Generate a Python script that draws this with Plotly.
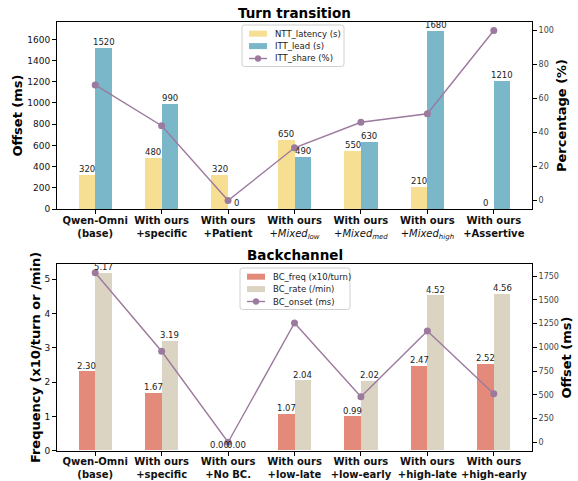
import plotly.graph_objects as go
from plotly.subplots import make_subplots

# ---- data ----
tt_categories = [
    "<b>Qwen-Omni</b><br><b>(base)</b>",
    "<b>With ours</b><br><b>+specific</b>",
    "<b>With ours</b><br><b>+Patient</b>",
    "<b>With ours</b><br>+<i>Mixed<sub>low</sub></i>",
    "<b>With ours</b><br>+<i>Mixed<sub>med</sub></i>",
    "<b>With ours</b><br>+<i>Mixed<sub>high</sub></i>",
    "<b>With ours</b><br><b>+Assertive</b>",
]
ntt_latency = [320, 480, 320, 650, 550, 210, 0]
itt_lead = [1520, 990, 0, 490, 630, 1680, 1210]
itt_share = [68, 44, 0, 31, 46, 51, 100]

bc_categories = [
    "<b>Qwen-Omni</b><br><b>(base)</b>",
    "<b>With ours</b><br><b>+specific</b>",
    "<b>With ours</b><br><b>+No BC.</b>",
    "<b>With ours</b><br><b>+low-late</b>",
    "<b>With ours</b><br><b>+low-early</b>",
    "<b>With ours</b><br><b>+high-late</b>",
    "<b>With ours</b><br><b>+high-early</b>",
]
bc_freq = [2.30, 1.67, 0.00, 1.07, 0.99, 2.47, 2.52]
bc_rate = [5.17, 3.19, 0.00, 2.04, 2.02, 4.52, 4.56]
bc_onset = [1785, 958, 0, 1256, 479, 1172, 510]

tt_names = ["NTT_latency (s)", "ITT_lead (s)", "ITT_share (%)"]
bc_names = ["BC_freq (x10/turn)", "BC_rate (/min)", "BC_onset (ms)"]

# ---- style ----
FONT = "DejaVu Sans"
C_NTT = "#F6DE92"
C_ITT = "#7AB7C9"
C_LINE = "#9C7A9E"
C_FREQ = "#E48A7B"
C_RATE = "#DCD4C2"
W, H = 578, 481
BAR_W = 0.25

fig = make_subplots(rows=2, cols=1,
                    specs=[[{"secondary_y": True}], [{"secondary_y": True}]])

xs1 = list(range(len(tt_categories)))
xs2 = list(range(len(bc_categories)))

bar_text_font = dict(family=FONT, size=8.5, color="#222")
annotations = []


def add_group(row, yref, xs, v1, v2, line, names, c1, c2, fmt):
    for vals, off, col, nm in ((v1, -BAR_W, c1, names[0]), (v2, 0, c2, names[1])):
        fig.add_trace(go.Bar(x=xs, y=vals, width=BAR_W, offset=off,
                             marker=dict(color=col, line=dict(width=0)),
                             name=nm, showlegend=False),
                      row=row, col=1, secondary_y=False)
        for xi, v in zip(xs, vals):
            annotations.append(dict(text=fmt(v), x=xi + off + BAR_W / 2, y=v,
                                    xref="x" if row == 1 else "x2", yref=yref,
                                    xanchor="center", yanchor="bottom", yshift=-1,
                                    showarrow=False, font=bar_text_font))
    fig.add_trace(go.Scatter(x=xs, y=line, mode="lines+markers",
                             line=dict(color=C_LINE, width=1.4),
                             marker=dict(color=C_LINE, size=7),
                             name=names[2], cliponaxis=False, showlegend=False),
                  row=row, col=1, secondary_y=True)


add_group(1, "y", xs1, ntt_latency, itt_lead, itt_share, tt_names, C_NTT, C_ITT,
          lambda v: str(v))
add_group(2, "y3", xs2, bc_freq, bc_rate, bc_onset, bc_names, C_FREQ, C_RATE,
          lambda v: f"{v:.2f}")

# domains (paper fractions)
xdom = [57 / W, 532 / W]
ydom1 = [(H - 209) / H, (H - 22) / H]
ydom2 = [(H - 450.7) / H, (H - 264.3) / H]

axis_common = dict(showline=True, linecolor="black", linewidth=1, ticks="outside",
                   ticklen=4, tickcolor="black", showgrid=False, zeroline=False,
                   automargin=False)

tickfont_l = dict(family=FONT, size=9, color="#111")
tickfont_r = dict(family=FONT, size=8, color="#444")
tickfont_x = dict(family=FONT, size=10, color="#111")
titlefont = dict(family=FONT, size=13, color="black")

# ---- legend drawn in paper space (matplotlib-like compact legend) ----
shapes = []


def px(x):
    return x / W


def py(y):
    return (H - y) / H


def rounded_rect(x0, y0, x1, y1, r=2.5):
    return (f"M {px(x0 + r)} {py(y0)} L {px(x1 - r)} {py(y0)} "
            f"Q {px(x1)} {py(y0)} {px(x1)} {py(y0 + r)} "
            f"L {px(x1)} {py(y1 - r)} Q {px(x1)} {py(y1)} {px(x1 - r)} {py(y1)} "
            f"L {px(x0 + r)} {py(y1)} Q {px(x0)} {py(y1)} {px(x0)} {py(y1 - r)} "
            f"L {px(x0)} {py(y0 + r)} Q {px(x0)} {py(y0)} {px(x0 + r)} {py(y0)} Z")


def make_legend(x0, y0, w, names, colors):
    h = 41.5
    shapes.append(dict(type="path", xref="paper", yref="paper",
                       path=rounded_rect(x0, y0, x0 + w, y0 + h),
                       fillcolor="rgba(255,255,255,0.8)",
                       line=dict(color="#d0d0d0", width=1), layer="above"))
    for i, (nm, col) in enumerate(zip(names, colors)):
        yc = y0 + 8.7 + i * 12.4
        sx0, sx1 = x0 + 7, x0 + 25
        if i < 2:
            shapes.append(dict(type="rect", xref="paper", yref="paper",
                               x0=px(sx0), x1=px(sx1), y0=py(yc - 3), y1=py(yc + 3),
                               fillcolor=col, line=dict(width=0), layer="above"))
        else:
            shapes.append(dict(type="line", xref="paper", yref="paper",
                               x0=px(sx0), x1=px(sx1), y0=py(yc), y1=py(yc),
                               line=dict(color=col, width=1.4), layer="above"))
            xm = (sx0 + sx1) / 2
            shapes.append(dict(type="circle", xref="paper", yref="paper",
                               x0=px(xm - 3), x1=px(xm + 3), y0=py(yc - 3), y1=py(yc + 3),
                               fillcolor=col, line=dict(color=col, width=0.5), layer="above"))
        annotations.append(dict(text=nm, xref="paper", yref="paper",
                                x=px(x0 + 31), y=py(yc), xanchor="left", yanchor="middle",
                                showarrow=False,
                                font=dict(family=FONT, size=8.5, color="#222")))


make_legend(242, 25, 102, tt_names, [C_NTT, C_ITT, C_LINE])
make_legend(240, 268, 110, bc_names, [C_FREQ, C_RATE, C_LINE])

annotations += [
    dict(text="<b>Turn transition</b>", xref="paper", yref="paper",
         x=(xdom[0] + xdom[1]) / 2, y=ydom1[1], xanchor="center", yanchor="bottom",
         yshift=-1, showarrow=False, font=dict(family=FONT, size=13.5, color="black")),
    dict(text="<b>Backchannel</b>", xref="paper", yref="paper",
         x=(xdom[0] + xdom[1]) / 2, y=ydom2[1], xanchor="center", yanchor="bottom",
         yshift=-1, showarrow=False, font=dict(family=FONT, size=13.5, color="black")),
]

fig.update_layout(
    width=W, height=H, margin=dict(l=0, r=0, t=0, b=0),
    paper_bgcolor="white", plot_bgcolor="white",
    barmode="overlay", bargap=0,
    font=dict(family=FONT, color="black"),
    showlegend=False,
    xaxis=dict(domain=xdom, range=[-0.575, 6.575], tickvals=xs1, ticktext=tt_categories,
               tickfont=tickfont_x, mirror=True, anchor="y", ticklabelstandoff=-2,
               **axis_common),
    yaxis=dict(domain=ydom1, range=[0, 1764], dtick=200, tickfont=tickfont_l,
               title=dict(text="<b>Offset (ms)</b>", font=titlefont, standoff=1),
               **axis_common),
    yaxis2=dict(range=[-5, 105], dtick=20, tickfont=tickfont_r, overlaying="y", side="right",
                anchor="x",
                title=dict(text="<b>Percentage (%)</b>", font=titlefont, standoff=4),
                **axis_common),
    xaxis2=dict(domain=xdom, range=[-0.575, 6.575], tickvals=xs2, ticktext=bc_categories,
                tickfont=tickfont_x, mirror=True, anchor="y3", ticklabelstandoff=-3,
                **axis_common),
    yaxis3=dict(domain=ydom2, range=[0, 5.4285], dtick=1, tickfont=tickfont_l,
                title=dict(text="<b>Frequency (x10/turn or /min)</b>", font=titlefont, standoff=0),
                **axis_common),
    yaxis4=dict(range=[-89, 1874], dtick=250, tickfont=tickfont_r, overlaying="y3", side="right",
                anchor="x2",
                title=dict(text="<b>Offset (ms)</b>", font=titlefont, standoff=1),
                **axis_common),
    shapes=shapes,
    annotations=annotations,
)

fig.write_html("out.html")
